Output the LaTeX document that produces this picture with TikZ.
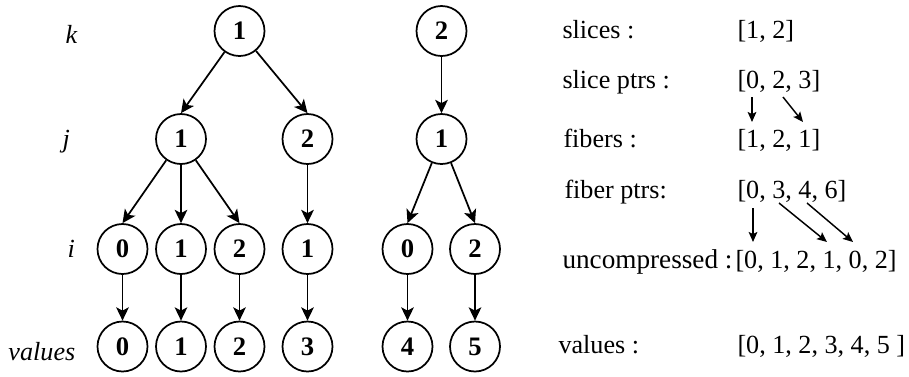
\documentclass[tikz,border=0pt]{standalone}
\usepackage{fontspec}
\setmainfont{Liberation Serif}
\usetikzlibrary{arrows.meta}

\tikzset{every picture/.style={line width=0.75pt}}
\tikzset{
	fnode/.style={draw, circle, line width=1.3pt, minimum size=37.5pt, inner sep=0pt, font=\fontsize{20}{24}\selectfont\bfseries},
	farrow/.style={line width=1.3pt, -{Stealth[length=10pt,width=9.5pt,inset=2.5pt]}},
	parrow/.style={line width=1.1pt, -{Stealth[length=7.5pt,width=6.5pt,inset=1.5pt]}},
	lbl/.style={anchor=base west, inner sep=0pt, font=\fontsize{19.6}{23}\selectfont},
}

\begin{document}
\begin{tikzpicture}[x=0.75pt,y=0.75pt,yscale=-1,xscale=1]
	\useasboundingbox (0,0) rectangle (909,376);
	
	%Shape: Circle [k level]
	\node [fnode] (k1) at (239.5,31) {1};
	\node [fnode] (k2) at (441.5,31) {2};
	%Shape: Circle [j level]
	\node [fnode] (j1) at (181,139) {1};
	\node [fnode] (j2) at (307.5,139) {2};
	\node [fnode] (j3) at (441.5,139) {1};
	%Shape: Circle [i level]
	\node [fnode] (i1) at (122.5,249) {0};
	\node [fnode] (i2) at (181,249) {1};
	\node [fnode] (i3) at (239.5,249) {2};
	\node [fnode] (i4) at (307.5,249) {1};
	\node [fnode] (i5) at (407.5,249) {0};
	\node [fnode] (i6) at (475,249) {2};
	%Shape: Circle [values]
	\node [fnode] (v0) at (122.5,346.5) {0};
	\node [fnode] (v1) at (181,346.5) {1};
	\node [fnode] (v2) at (239.5,346.5) {2};
	\node [fnode] (v3) at (307.5,346.5) {3};
	\node [fnode] (v4) at (407.5,346.5) {4};
	\node [fnode] (v5) at (475,346.5) {5};
	
	%Straight Lines [tree edges]
	\draw [farrow] (k1) -- (j1.north) ;
	\draw [farrow] (k1) -- (j2.north) ;
	\draw [farrow] (k2) -- (j3) ;
	\draw [farrow] (j1) -- (i1.north) ;
	\draw [farrow] (j1) -- (i2) ;
	\draw [farrow] (j1) -- (i3.north) ;
	\draw [farrow] (j2) -- (i4) ;
	\draw [farrow] (j3) -- (i5.north) ;
	\draw [farrow] (j3) -- (i6.north) ;
	\draw [farrow] (i1) -- (v0) ;
	\draw [farrow] (i2) -- (v1) ;
	\draw [farrow] (i3) -- (v2) ;
	\draw [farrow] (i4) -- (v3) ;
	\draw [farrow] (i5) -- (v4) ;
	\draw [farrow] (i6) -- (v5) ;
	
	% Text Node
	\node [lbl] (lk) at (65,43) {\textit{k}};
	% Text Node
	\node [lbl] (lj) at (62,147) {\textit{j}};
	% Text Node
	\node [lbl] (li) at (67,257) {\textit{i}};
	% Text Node
	\node [lbl] (lv) at (8,360) {\textit{values}};
	
	% Text Node
	\node [lbl] (slices) at (562,38) {slices :};
	\node [lbl] (slicesval) at (737,38) {[1, 2]};
	% Text Node
	\node [lbl] (sptrs) at (562,88) {slice ptrs :};
	\node [lbl] (sptrsval) at (737,88) {[0, 2, 3]};
	% Text Node
	\node [lbl] (fibers) at (563,147) {fibers :};
	\node [lbl] (fibersval) at (737,147) {[1, 2, 1]};
	% Text Node
	\node [lbl] (fptrs) at (564,198) {fiber ptrs:};
	\node [lbl] (fptrsval) at (737,198) {[0, 3, 4, 6]};
	% Text Node
	\node [lbl, font=\fontsize{20.4}{24}\selectfont] (uncomp) at (562,268) {uncompressed :};
	\node [lbl] (uncompval) at (735,268) {[0, 1, 2, 1, 0, 2]};
	% Text Node
	\node [lbl] (vals) at (558,353) {values :};
	\node [lbl] (valsval) at (737,353) {[0, 1, 2, 3, 4, 5 ]};
	
	%Straight Lines [pointer arrows]
	\coordinate (sp0) at (752,97);
	\coordinate (sp1) at (783,97);
	\coordinate (fb0) at (752,122);
	\coordinate (fb1) at (803,122);
	\draw [parrow] (sp0) -- (fb0) ;
	\draw [parrow] (sp1) -- (fb1) ;
	\coordinate (fp0) at (753,208);
	\coordinate (fp1) at (779,203);
	\coordinate (fp2) at (807,203);
	\coordinate (uc0) at (753,242);
	\coordinate (uc1) at (827,242);
	\coordinate (uc2) at (853,242);
	\draw [parrow] (fp0) -- (uc0) ;
	\draw [parrow] (fp1) -- (uc1) ;
	\draw [parrow] (fp2) -- (uc2) ;
\end{tikzpicture}
\end{document}
